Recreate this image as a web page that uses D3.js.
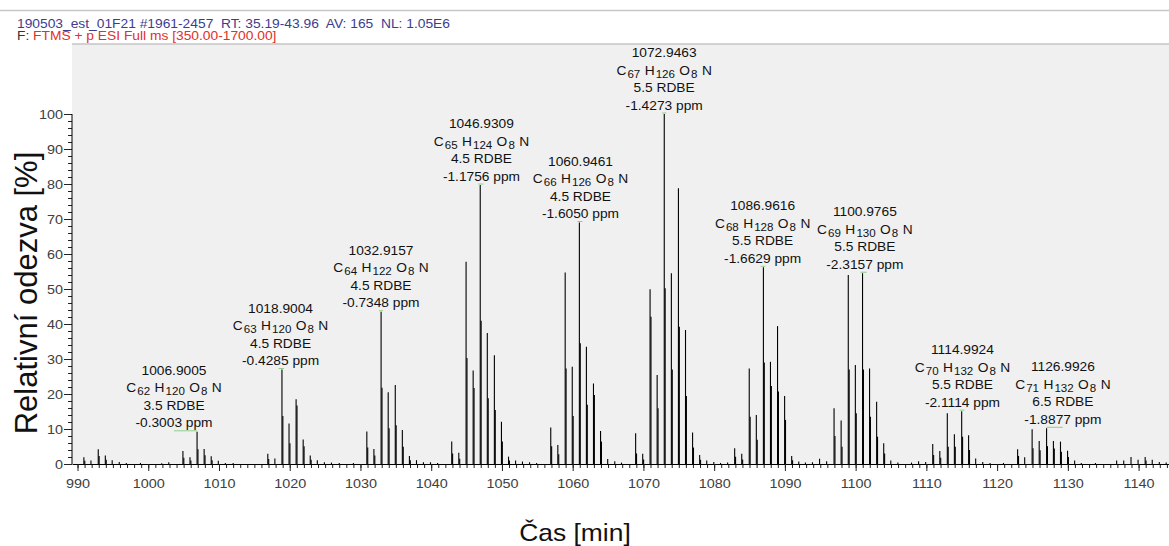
<!DOCTYPE html>
<html><head><meta charset="utf-8">
<script src="https://cdn.jsdelivr.net/npm/d3@7"></script>
<style>
body{margin:0;background:#fff;}
svg{display:block;font-family:"Liberation Sans",Arial,sans-serif;}
text{white-space:pre;}
</style>
</head><body>
<svg id="c" width="1169" height="546"></svg>
<script>
// ---------------- DATA ----------------
const headerLine1 = "190503_est_01F21 #1961-2457  RT: 35.19-43.96  AV: 165  NL: 1.05E6";
const headerLine2a = "F: ";
const headerLine2b = "FTMS + p ESI Full ms [350.00-1700.00]";
const xTitle = "Čas [min]";
const yTitle = "Relativní odezva [%]";
const xTicks = [990,1000,1010,1020,1030,1040,1050,1060,1070,1080,1090,1100,1110,1120,1130,1140];
const yTicks = [0,10,20,30,40,50,60,70,80,90,100];

// main centroid peaks (m/z, relative intensity %)
const peakMz = [
 990.9,991.9,992.93,993.93,994.9,995.9,996.9,998.9,1001.9,1002.9,
 1004.9,1005.9,1006.9005,1007.9,1008.9,1009.9,1010.9,1012.0,
 1016.9,1017.9,1018.9004,1019.9,1020.9,1021.9,1022.9,1023.9,1024.9,1025.9,1027.0,1029.0,
 1030.9,1031.9,1032.9157,1033.92,1034.92,1035.92,1036.92,1037.92,1038.9,1039.9,1040.9,
 1042.9,1043.9,1044.93,1045.93,1046.9309,1047.93,1048.93,1049.93,1050.93,1051.93,1052.9,1053.9,1054.9,
 1056.9,1057.9,1058.94,1059.94,1060.9461,1061.94,1062.94,1063.94,1064.95,1065.95,1066.9,
 1068.9,1069.9,1070.94,1071.94,1072.9463,1073.95,1074.95,1075.95,1076.95,1077.95,1078.95,1079.95,1080.9,1081.9,
 1082.9,1083.9,1084.96,1085.96,1086.9616,1087.96,1088.96,1089.96,1090.96,1091.96,1092.9,1093.9,1094.9,1095.9,
 1096.95,1097.95,1098.96,1099.96,1100.9765,1101.97,1102.97,1103.97,1104.97,1105.97,1107.9,1108.9,1109.9,
 1110.9,1111.9,1112.96,1113.96,1114.9924,1115.97,1116.97,1117.97,1119.0,1120.9,
 1122.9,1123.9,1124.95,1125.95,1126.9926,1127.96,1128.96,1129.96,1130.96,1131.9,1133.9,
 1136.9,1137.9,1138.93,1139.93,1140.93,1141.93,1142.93,1143.9
];
const peakInt = [
 1.9,1.0,4.2,2.4,1.1,0.6,0.3,0.3,0.2,0.5,
 3.7,1.9,9.2,4.3,2.2,0.9,0.3,0.3,
 2.9,1.6,27,11.6,18.5,7.0,2.4,1.1,0.5,0.4,0.3,0.3,
 9.3,4.3,43.5,20.5,22.6,9.7,2.3,1.1,0.5,0.5,0.3,
 6.4,3.2,57.8,26.7,79.7,37.4,31.1,12.1,2.1,1.0,0.7,0.5,0.3,
 10.4,5.4,54.7,27.8,69,33.5,23,9.4,1.4,0.8,0.4,
 8.8,2.9,49.9,25.4,100,54.5,78.8,38.3,9.0,2.6,1.0,0.6,0.3,0.4,
 4.5,2.9,27.3,14,56.2,29.2,39.4,19.4,2.3,0.7,0.4,0.5,1.5,0.8,
 15.9,12.4,54,28.3,54.5,27.3,17.8,5.9,1.0,0.4,0.4,0.8,0.6,
 5.7,3.7,14.5,8.5,15.1,8.2,1.6,0.6,0.3,0.3,
 4.2,1.9,9.9,6.6,10.2,6.6,6.4,3.8,1.0,0.3,0.3,
 1.0,1.0,2.0,1.2,2.0,1.2,0.6,0.4
];
// overlapping companion peaks (same nominal mass, slightly higher m/z)
const subMz = [
 990.9,992.93,993.93,1004.9,1005.9,1006.9005,1007.9,1008.9,
 1016.9,1018.9004,1019.9,1020.9,1021.9,1022.9,
 1030.9,1031.9,1032.9157,1033.92,1034.92,1035.92,1036.92,
 1042.9,1043.9,1044.93,1045.93,1046.9309,1047.93,1048.93,1049.93,1050.93,
 1056.9,1057.9,1058.94,1059.94,1060.9461,1061.94,1062.94,1063.94,
 1068.9,1069.9,1070.94,1071.94,1072.9463,1073.95,1074.95,1075.95,1076.95,1077.95,
 1082.9,1083.9,1084.96,1085.96,1086.9616,1087.96,1088.96,1089.96,1090.96,
 1096.95,1097.95,1098.96,1099.96,1100.9765,1101.97,1102.97,1103.97,
 1110.9,1111.9,1112.96,1113.96,1114.9924,1115.97,
 1122.9,1124.95,1125.95,1126.9926,1127.96,1128.96,1129.96,1140.93
];
const subInt = [
 0.9,2.3,1.2,1.8,1.0,4.2,2.5,1.1,
 1.4,13.7,5.9,16.7,5.1,1.2,
 4.7,2.4,21.8,10.2,11.1,4.9,1.1,
 3.0,1.5,30.3,21.7,40.9,18.8,15.4,6.4,1.0,
 5.1,2.8,27.3,13.7,34.5,16.9,19.7,6.4,
 3.0,1.3,42.1,15.9,50.2,27,39.2,19.4,4.7,1.2,
 2.1,1.3,13.5,6.9,29,22.3,20.7,12.6,1.1,
 8.0,4.9,27,14.5,27,13.5,7.8,3.0,
 2.6,1.8,4.9,4.9,7.8,4.0,
 2.3,4.5,3.9,5.1,4.4,3.5,2.0,1.0
];

// annotated peaks
const annMz    = [1006.9005,1018.9004,1032.9157,1046.9309,1060.9461,1072.9463,1086.9616,1100.9765,1114.9924,1126.9926];
const annInt   = [9.2,27,43.5,79.7,69,100,56.2,54.5,15.1,10.2];
const annLabelMz = [1003.64,1018.7,1032.9,1047.1,1061.1,1072.93,1086.85,1101.3,1115.1,1129.3];
const annC     = [62,63,64,65,66,67,68,69,70,71];
const annH     = [120,120,122,124,126,126,128,130,132,132];
const annO     = [8,8,8,8,8,8,8,8,8,8];
const annRdbe  = ["3.5","4.5","4.5","4.5","4.5","5.5","5.5","5.5","5.5","6.5"];
const annPpm   = ["-0.3003","-0.4285","-0.7348","-1.1756","-1.6050","-1.4273","-1.6629","-2.3157","-2.1114","-1.8877"];

// ---------------- CHART ----------------
const W = 1169, H = 546;
const svg = d3.select("#c");
const x = d3.scaleLinear().domain([989.22, 1144.3]).range([72, 1169]);
const y = d3.scaleLinear().domain([0, 120]).range([464, 44]);

// header band
svg.append("line").attr("x1",0).attr("x2",W).attr("y1",10.5).attr("y2",10.5)
  .attr("stroke","#c8c8c8").attr("stroke-width",1.5);
svg.append("rect").attr("x",72).attr("y",y(120)).attr("width",W-72).attr("height",y(0)-y(120))
  .attr("fill","#f0f0f0");
svg.append("line").attr("x1",72).attr("x2",W).attr("y1",y(120)).attr("y2",y(120))
  .attr("stroke","#c4c4c4").attr("stroke-width",1.5);

function stretched(parent, tx, ty, sx) {
  return parent.append("g").attr("transform", `translate(${tx},${ty}) scale(${sx},1)`);
}
stretched(svg, 17, 27.5, 1.15).append("text").attr("font-size",12).attr("fill","#3d3d8f").text(headerLine1);
const h2 = stretched(svg, 17, 39.5, 1.15).append("text").attr("font-size",12);
h2.append("tspan").attr("fill","#333").text(headerLine2a);
h2.append("tspan").attr("fill","#e0302a").text(headerLine2b);

// peaks
const pk = svg.append("g").attr("stroke","#000").attr("stroke-width",1.1);
pk.selectAll("line.sub").data(d3.range(subMz.length)).join("line")
  .attr("x1", i => x(subMz[i]) + 0.9).attr("x2", i => x(subMz[i]) + 0.9)
  .attr("y1", y(0)).attr("y2", i => y(subInt[i]));
pk.selectAll("line.main").data(d3.range(peakMz.length)).join("line")
  .attr("x1", i => x(peakMz[i])).attr("x2", i => x(peakMz[i]))
  .attr("y1", y(0)).attr("y2", i => y(peakInt[i]));

// x axis
const xMinor = d3.range(990, 1145, 1);
svg.append("g").attr("transform",`translate(0,${y(0)})`)
  .call(d3.axisBottom(x).tickValues(xMinor).tickSize(4).tickFormat("").tickSizeOuter(0))
  .call(g => g.select(".domain").remove())
  .call(g => g.selectAll("line").attr("stroke","#222"));
const xa = svg.append("g").attr("transform",`translate(0,${y(0)})`)
  .call(d3.axisBottom(x).tickValues(xTicks).tickFormat(d3.format("d")).tickSize(7).tickSizeOuter(0));
xa.select(".domain").attr("stroke","#000");
xa.selectAll(".tick line").attr("stroke","#222");
xa.selectAll(".tick text").attr("y",24).attr("dy",null).attr("font-size",12)
  .attr("fill","#404040").attr("transform","scale(1.2,1)").attr("font-family",null);

// y axis
svg.append("g").attr("transform","translate(72,0)")
  .call(d3.axisLeft(y).tickValues(d3.range(0,101,2)).tickSize(4).tickFormat(""))
  .call(g => g.select(".domain").remove())
  .call(g => g.selectAll("line").attr("stroke","#222"));
const ya = svg.append("g").attr("transform","translate(72,0)")
  .call(d3.axisLeft(y).tickValues(yTicks).tickFormat(d3.format("d")).tickSize(8));
ya.select(".domain").remove();
ya.append("line").attr("x1",0).attr("x2",0).attr("y1",y(0)).attr("y2",y(100)).attr("stroke","#000");
ya.selectAll(".tick line").attr("stroke","#222");
ya.selectAll(".tick text").attr("x",0).attr("dy","0.36em").attr("font-size",12)
  .attr("fill","#404040").attr("transform","translate(-9,0) scale(1.2,1)").attr("font-family",null);

// axis titles
stretched(svg, 575, 541, 1.1).append("text").attr("text-anchor","middle").attr("font-size",24)
  .attr("fill","#111").text(xTitle);
svg.append("text").attr("transform","translate(37,293) rotate(-90)").attr("text-anchor","middle")
  .attr("font-size",31).attr("fill","#111").text(yTitle);

// annotations
const ann = svg.append("g");
annMz.forEach((m, i) => {
  const px = x(m), py = y(annInt[i]), lx = x(annLabelMz[i]);
  const a = Math.min(px, lx) - (Math.abs(px-lx) < 3 ? 2 : 0);
  const b = Math.max(px, lx) + (Math.abs(px-lx) < 3 ? 2 : 0);
  ann.append("line").attr("x1",a).attr("x2",b).attr("y1",py-1).attr("y2",py-1)
    .attr("stroke","#8ccf8c").attr("stroke-width",1);
  const g = stretched(ann, lx, py - 4.5, 1.1).attr("fill","#111").attr("font-size",12.5).attr("text-anchor","middle");
  g.append("text").attr("y",0).text(annPpm[i] + " ppm");
  g.append("text").attr("y",-17.5).text(annRdbe[i] + " RDBE");
  const f = g.append("text").attr("y",-35);
  f.append("tspan").text("C");
  f.append("tspan").attr("font-size",10.5).attr("dx",1).attr("dy",3).text(annC[i]);
  f.append("tspan").attr("dx",4).attr("dy",-3).text("H");
  f.append("tspan").attr("font-size",10.5).attr("dx",1).attr("dy",3).text(annH[i]);
  f.append("tspan").attr("dx",4).attr("dy",-3).text("O");
  f.append("tspan").attr("font-size",10.5).attr("dx",1).attr("dy",3).text(annO[i]);
  f.append("tspan").attr("dx",4).attr("dy",-3).text("N");
  g.append("text").attr("y",-52.5).text(m.toFixed(4));
});
</script>
</body></html>
